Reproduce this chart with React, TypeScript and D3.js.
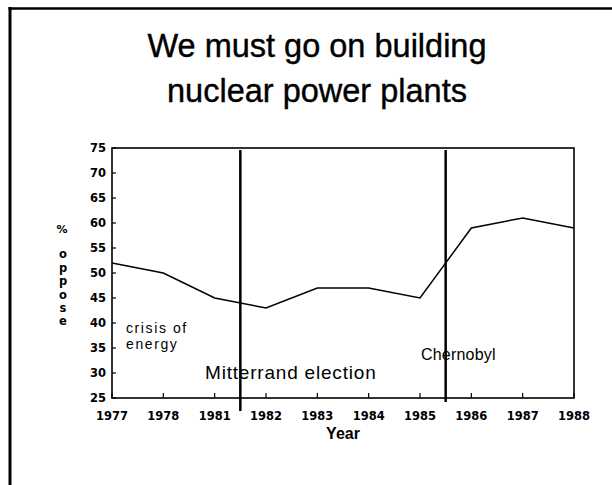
import React from "react";
import * as d3 from "d3";

const titleLines = ["We must go on building", "nuclear power plants"];
const years = ["1977", "1978", "1981", "1982", "1983", "1984", "1985", "1986", "1987", "1988"];
const oppose = [52, 50, 45, 43, 47, 47, 45, 59, 61, 59];
const yTicks = [25, 30, 35, 40, 45, 50, 55, 60, 65, 70, 75];
const eventPos = [2.5, 6.5];
const eventBottoms = [411, 402];
const yLabelChars = ["o", "p", "p", "o", "s", "e"];
const crisisLines = ["crisis of", "energy"];

const W = 612;
const H = 485;

export default function App() {
  const x = d3.scaleLinear().domain([0, years.length - 1]).range([112, 574]);
  const y = d3.scaleLinear().domain([25, 75]).range([398, 148]);
  const line = d3
    .line<number>()
    .x((_, i) => x(i))
    .y((d) => y(d));

  const tickFont = "'DejaVu Sans', sans-serif";
  const sans = "'Liberation Sans', Arial, sans-serif";

  return (
    <svg
      width={W}
      height={H}
      style={{ position: "absolute", left: 0, top: 0, background: "#fff" }}
    >
      <rect x={0} y={0} width={W} height={H} fill="#fff" />
      {/* frame */}
      <line x1={10} y1={7} x2={10} y2={H} stroke="#000" strokeWidth={3} />
      <line x1={8.5} y1={8.5} x2={W} y2={8.5} stroke="#000" strokeWidth={2.5} />

      {/* title */}
      {titleLines.map((t, i) => (
        <text
          key={t}
          x={317}
          y={57 + i * 45}
          textAnchor="middle"
          fontFamily={sans}
          fontSize={32.5}
          stroke="#000"
          strokeWidth={0.4}
          fill="#000"
        >
          {t}
        </text>
      ))}

      {/* plot box */}
      <rect
        x={x(0)}
        y={y(75)}
        width={x(years.length - 1) - x(0)}
        height={y(25) - y(75)}
        fill="none"
        stroke="#000"
        strokeWidth={1.6}
      />

      {/* y ticks */}
      {yTicks.map((t) => (
        <g key={t}>
          <line x1={x(0)} x2={x(0) + 4} y1={y(t)} y2={y(t)} stroke="#000" strokeWidth={1.2} />
          <text
            x={x(0) - 6}
            y={y(t)}
            dy="0.36em"
            textAnchor="end"
            fontFamily={tickFont}
            fontWeight="bold"
            fontSize={11.5}
            fill="#000"
          >
            {t}
          </text>
        </g>
      ))}

      {/* x ticks */}
      {years.map((yr, i) => (
        <g key={yr}>
          <line x1={x(i)} x2={x(i)} y1={y(25)} y2={y(25) - 5} stroke="#000" strokeWidth={1.2} />
          <text
            x={x(i)}
            y={419.5}
            textAnchor="middle"
            fontFamily={tickFont}
            fontWeight="bold"
            fontSize={11.5}
            fill="#000"
          >
            {yr}
          </text>
        </g>
      ))}

      {/* axis titles */}
      <text x={343} y={439} textAnchor="middle" fontFamily={sans} fontWeight="bold" fontSize={16} fill="#000">
        Year
      </text>
      <text x={62} y={229} dy="0.35em" textAnchor="middle" fontFamily={tickFont} fontWeight="bold" fontSize={11} fill="#000">
        %
      </text>
      {yLabelChars.map((c, i) => (
        <text
          key={i}
          x={63}
          y={255 + i * 13.4}
          dy="0.3em"
          textAnchor="middle"
          fontFamily={tickFont}
          fontWeight="bold"
          fontSize={11.5}
          fill="#000"
        >
          {c}
        </text>
      ))}

      {/* data line */}
      <path d={line(oppose) || ""} fill="none" stroke="#000" strokeWidth={1.5} />

      {/* event lines */}
      {eventPos.map((p, i) => (
        <line
          key={p}
          x1={x(p)}
          x2={x(p)}
          y1={150}
          y2={eventBottoms[i]}
          stroke="#000"
          strokeWidth={2.5}
        />
      ))}

      {/* annotations */}
      {crisisLines.map((t, i) => (
        <text
          key={t}
          x={126}
          y={333 + i * 15.5}
          fontFamily={sans}
          fontSize={14}
          letterSpacing={1.6}
          fill="#000"
        >
          {t}
        </text>
      ))}
      <text x={205} y={379} fontFamily={sans} fontSize={19} letterSpacing={0.8} fill="#000">
        Mitterrand election
      </text>
      <text x={421} y={360} fontFamily={sans} fontSize={16} letterSpacing={0.2} fill="#000">
        Chernobyl
      </text>
    </svg>
  );
}
